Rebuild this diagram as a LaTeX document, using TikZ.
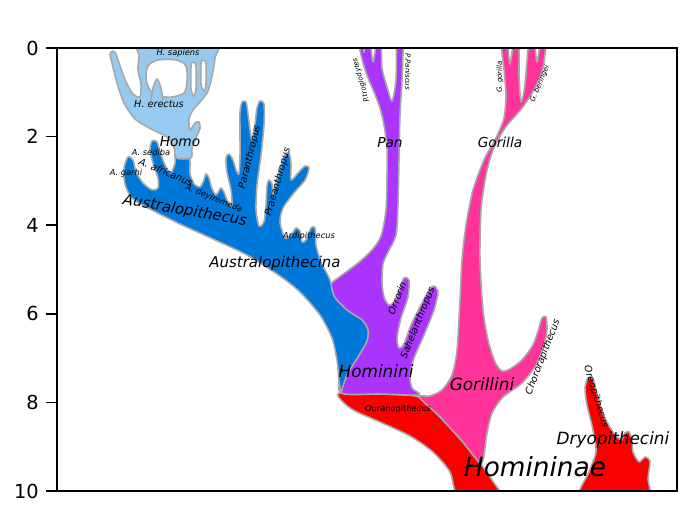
\documentclass[tikz,border=0pt]{standalone}
\usepackage{fontspec}
\setmainfont{DejaVu Sans}

\definecolor{edgegray}{RGB}{168,168,168}
\definecolor{homoblue}{RGB}{150,202,240}
\definecolor{australblue}{RGB}{0,120,218}
\definecolor{panpurple}{RGB}{172,52,255}
\definecolor{gorpink}{RGB}{255,51,153}
\definecolor{hominred}{RGB}{250,0,0}

\tikzstyle{clade} = [draw=edgegray, line width=0.9pt, line join=round]
\tikzstyle{gap} = [clade, fill=white]
\tikzstyle{axisline} = [line width=0.85pt, black]
\tikzstyle{ticklabel} = [inner sep=0pt, font=\fontsize{11}{13}\selectfont]
\tikzstyle{subfamily} = [inner sep=0pt, font=\fontsize{15}{18}\selectfont\itshape]
\tikzstyle{tribe} = [inner sep=0pt, font=\fontsize{9.6}{11}\selectfont\itshape]
\tikzstyle{subtribe} = [inner sep=0pt, font=\fontsize{8.5}{10}\selectfont\itshape]
\tikzstyle{genus} = [inner sep=0pt, font=\fontsize{7.8}{9}\selectfont\itshape]
\tikzstyle{species} = [inner sep=0pt, font=\fontsize{5.5}{6.5}\selectfont\itshape]
\tikzstyle{small} = [inner sep=0pt, font=\fontsize{4.7}{5.5}\selectfont\itshape]
\tikzstyle{tiny} = [inner sep=0pt, font=\fontsize{4}{5}\selectfont\itshape]

\begin{document}
\begin{tikzpicture}[x=0.02cm, y=-0.02cm]
\useasboundingbox (0,0) rectangle (690,509);

\begin{scope}
\clip (57,48) rectangle (677,491);
% Homininae stem and Ouranopithecus
\path[clade, fill=hominred] plot[smooth cycle, tension=0.45] coordinates {(339,393) (380,394) (419,397) (440,417) (462,441) (480,463) (492,480) (502,500) (460,500) (450,472) (433,452) (410,436) (380,422) (355,411) (343,402)};
% Dryopithecini
\path[clade, fill=hominred] plot[smooth cycle, tension=0.45] coordinates {(580,500) (589,472) (596,452) (593,430) (587,405) (585,388) (588,378) (593,379) (597,394) (604,416) (613,432) (621,440) (625,433) (629,432) (632,440) (633,452) (639,462) (645,457) (650,461) (648,478) (646,500)};
% Gorillini
\path[clade, fill=gorpink] plot[smooth cycle, tension=0.45] coordinates {(419,397) (430,396) (442,390) (452,375) (457,350) (460,300) (462,260) (466,225) (473,190) (484,160) (496,138) (504,118) (506,95) (504,70) (501,40) (507,40) (510,64) (514,40) (519,40) (519,75) (521,102) (525,85) (529,40) (534,40) (537,62) (541,40) (546,40) (543,68) (535,88) (522,108) (505,128) (493,150) (486,175) (481,210) (480,260) (483,310) (488,340) (495,362) (502,371) (510,369) (522,360) (533,345) (539,328) (542,318) (546,317) (547,330) (544,345) (536,365) (522,383) (503,397) (492,413) (487,433) (484,455) (480,463) (462,441) (440,417)};
% Hominini
\path[clade, fill=panpurple] plot[smooth cycle, tension=0.45] coordinates {(330,284) (342,275) (358,263) (372,250) (381,236) (386,210) (387,175) (387,148) (384,125) (380,108) (374,92) (368,78) (363,63) (360,50) (359,40) (363,40) (364,52) (366,40) (370,40) (373,62) (377,40) (381,40) (382,68) (387,87) (392,101) (396,80) (397,40) (403,40) (402,80) (400,115) (399,160) (398,205) (396,235) (388,252) (383,264) (382,282) (384,297) (389,305) (395,301) (400,288) (404,278) (409,280) (408,297) (401,318) (397,338) (399,348) (404,344) (411,325) (421,305) (429,290) (434,286) (438,292) (434,310) (424,335) (414,358) (410,375) (412,388) (419,395) (380,394) (341,393) (340,370) (338,340) (328,310) (322,292)};
% Australopithecina
\path[clade, fill=australblue] plot[smooth cycle, tension=0.45] coordinates {(124,168) (128,157) (133,160) (136,172) (143,183) (152,190) (158,188) (158,178) (153,163) (150,150) (152,141) (157,142) (161,155) (166,167) (171,173) (175,163) (176,148) (188,148) (190,162) (190,174) (194,184) (200,187) (204,180) (206,174) (209,178) (212,189) (216,195) (219,191) (221,188) (224,192) (227,200) (232,206) (231,190) (227,172) (226,158) (229,154) (233,160) (236,170) (239,174) (240,158) (240,130) (240,112) (242,102) (246,102) (248,114) (250,130) (252,140) (255,124) (257,108) (260,101) (264,104) (264,125) (261,155) (257,185) (256,210) (259,226) (264,222) (266,205) (267,186) (269,180) (272,184) (273,195) (277,180) (281,166) (285,155) (289,153) (291,164) (291,180) (298,173) (305,166) (309,168) (305,180) (293,194) (283,208) (280,222) (285,238) (292,234) (296,228) (300,231) (302,242) (306,240) (311,228) (315,228) (316,245) (321,262) (330,280) (334,296) (347,310) (362,320) (368,330) (367,341) (358,357) (348,373) (343,386) (341,393) (339,380) (337,360) (332,338) (320,315) (300,292) (280,276) (247,255) (213,239) (180,224) (150,209) (132,198) (125,184)};
% Homo
\path[clade, fill=homoblue] plot[smooth cycle, tension=0.45] coordinates {(176,158) (174,147) (167,137) (151,129) (135,119) (124,103) (117,83) (112,63) (110,54) (113,51) (116,54) (120,66) (126,82) (133,94) (140,97) (141,84) (138,70) (139,56) (140,40) (216,40) (215,58) (212,76) (208,91) (201,101) (193,110) (189,119) (190,130) (195,123) (199,122) (200,128) (196,138) (192,148) (191,158)};
\path[gap] plot[smooth cycle, tension=0.5] coordinates {(148,66) (158,60) (176,60) (186,66) (187,82) (184,93) (172,97) (160,96) (150,90) (146,78)};
\path[gap] plot[smooth cycle, tension=0.5] coordinates {(191,66) (193,62) (196,66) (196,88) (194,96) (191,89)};
\path[gap] plot[smooth cycle, tension=0.5] coordinates {(201,64) (203,60) (206,64) (206,84) (204,91) (201,84)};
\path[clade, fill=homoblue] plot[smooth, tension=0.5] coordinates {(151,101) (153,88) (157,79) (161,88) (163,101)};
\end{scope}

% axes
\draw[axisline] (57,48) rectangle (677,491);
\foreach \t in {0,2,...,10} {
  \draw[axisline] (46,{48+44.3*\t}) -- (57,{48+44.3*\t});
  \node[ticklabel, anchor=east] (tick\t) at (39,{48+44.3*\t}) {\t};
}

% labels
\node[subfamily] (homininae) at (535,467) {Homininae};
\node[tribe] (hominini) at (376,371) {Hominini};
\node[tribe] (gorillini) at (482,384) {Gorillini};
\node[tribe] (dryopithecini) at (613,440) {Dryopithecini};
\node[subtribe] (australopithecina) at (275,263) {Australopithecina};
\node[subtribe, rotate=-10] (australopithecus) at (185,211) {Australopithecus};
\node[genus] (homo) at (180,142) {Homo};
\node[genus] (pan) at (390,143) {Pan};
\node[genus] (gorilla) at (500,142) {Gorilla};
\node[species] (erectus) at (159,104) {H. erectus};
\node[species, rotate=69] (orrorin) at (397,298) {Orrorin};
\node[species, rotate=68] (sahelanthropus) at (418,323) {Sahelanthropus};
\node[species, rotate=69] (chororapithecus) at (543,357) {Chororapithecus};
\node[species, rotate=-73] (oreopithecus) at (596,397) {Oreopithecus};
\node[species, rotate=76] (paranthropus) at (250,157) {Paranthropus};
\node[species, rotate=74] (praeanthropus) at (278,182) {Praeanthropus};
\node[species, rotate=-23] (africanus) at (166,172) {A. africanus};
\node[small] (sapiens) at (178,53) {H. sapiens};
\node[small] (sediba) at (151,152) {A. sediba};
\node[small] (garhi) at (126,173) {A. garhi};
\node[small] (ardipithecus) at (309,236) {Ardipithecus};
\node[small] (ouranopithecus) at (398,409) {Ouranopithecus};
\node[small, rotate=-22] (deyiremeda) at (214,199) {A. deyiremeda};
\node[tiny, rotate=106] (troglodytes) at (361,80) {P.troglodytes};
\node[tiny, rotate=-90] (paniscus) at (408,72) {P.Paniscus};
\node[tiny, rotate=90] (ggorilla) at (500,77) {G. gorilla};
\node[tiny, rotate=67] (beringei) at (540,84) {G. beringei};
\end{tikzpicture}
\end{document}
